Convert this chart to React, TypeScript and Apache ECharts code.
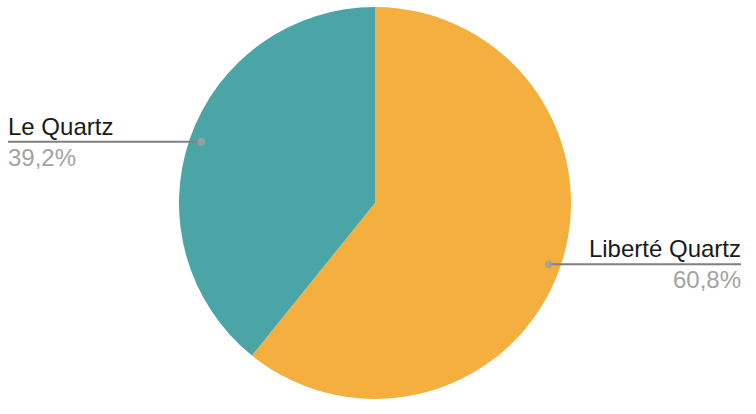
import * as echarts from 'echarts';
import { useEffect, useRef } from 'react';

const names = ['Liberté Quartz', 'Le Quartz'];
const values = [60.8, 39.2];
const colors = ['#F4AF3F', '#4BA5A7'];

const CENTER: [number, number] = [375, 203];
const RADIUS = 196;
const DOT_RATIO = 0.94;

const App = () => {
    const chartRef = useRef<HTMLDivElement>(null);

    useEffect(() => {
        if (!chartRef.current) return;
        const chart = echarts.init(chartRef.current, undefined, { renderer: 'svg' });

        const total = values.reduce((a, b) => a + b, 0);
        let acc = 0;
        const dots = values.map((v) => {
            const mid = ((acc + v / 2) / total) * 100;
            acc += v;
            return [DOT_RATIO, mid];
        });

        const pieBase = {
            type: 'pie',
            center: CENTER,
            radius: RADIUS,
            startAngle: 90,
            clockwise: true,
            avoidLabelOverlap: false,
            emphasis: { disabled: true },
            silent: true,
        };

        chart.setOption({
            animation: false,
            textStyle: { fontFamily: 'Liberation Sans, Arial, sans-serif' },
            polar: { center: CENTER, radius: RADIUS },
            angleAxis: { type: 'value', min: 0, max: 100, startAngle: 90, clockwise: true, show: false },
            radiusAxis: { type: 'value', min: 0, max: 1, show: false },
            series: [
                {
                    ...pieBase,
                    data: names.map((n, i) => ({ name: n, value: values[i], itemStyle: { color: colors[i] } })),
                    label: { show: false },
                    labelLine: { show: false },
                    z: 1,
                },
                {
                    // transparent copy that carries labels and leader lines above the slices
                    ...pieBase,
                    data: names.map((n, i) => ({ name: n, value: values[i] })),
                    itemStyle: { color: 'rgba(0,0,0,0)' },
                    label: {
                        show: true,
                        position: 'outside',
                        formatter: (p: any) =>
                            `{name|${p.name}}\n{pct|${p.percent.toFixed(1).replace('.', ',')}%}`,
                        rich: {
                            name: { fontSize: 24, lineHeight: 31, color: '#1a1a1a', fontFamily: 'Liberation Sans' },
                            pct: { fontSize: 24, lineHeight: 31, color: '#a3a3a3', fontFamily: 'Liberation Sans' },
                        },
                    },
                    labelLine: { show: true, lineStyle: { color: '#7f7f7f', width: 2 } },
                    labelLayout: (params: any) => {
                        const p0 = params.labelLinePoints[0];
                        const dx = CENTER[0] + (p0[0] - CENTER[0]) * DOT_RATIO;
                        const dy = CENTER[1] + (p0[1] - CENTER[1]) * DOT_RATIO;
                        const left = dx < CENTER[0];
                        const edge = left ? 8 : 741;
                        return {
                            x: edge,
                            y: dy,
                            align: left ? 'left' : 'right',
                            verticalAlign: 'middle',
                            labelLinePoints: [
                                [dx, dy],
                                [dx, dy],
                                [edge, dy],
                            ],
                        };
                    },
                    z: 3,
                },
                {
                    type: 'scatter',
                    coordinateSystem: 'polar',
                    data: dots,
                    symbolSize: 8,
                    itemStyle: { color: '#a0a0a0' },
                    silent: true,
                    z: 5,
                },
            ],
        });

        return () => chart.dispose();
    }, []);

    return (
        <div
            ref={chartRef}
            style={{ position: 'absolute', left: 0, top: 0, width: 756, height: 414 }}
        />
    );
};

export default App;
